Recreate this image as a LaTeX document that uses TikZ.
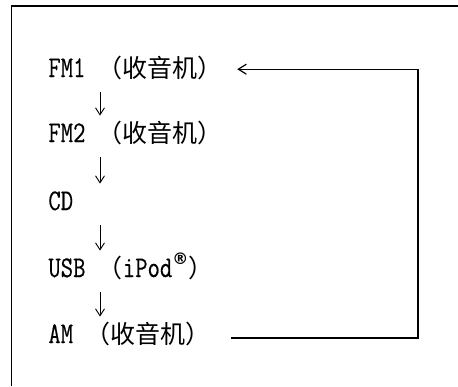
\documentclass[tikz,border=0pt]{standalone}
\usepackage{fontspec}
\newfontfamily\cjk{Noto Sans CJK SC}
\newfontfamily\latin[FakeStretch=0.8,FakeBold=0.4]{Latin Modern Mono}
\newfontfamily\symb{DejaVu Sans}
\usetikzlibrary{arrows.meta}

\tikzset{
  item/.style={anchor=base west,inner sep=0pt,text height=0.7em,text depth=0.2em,
    font=\fontsize{12.5}{15}\selectfont},
  down/.style={-{Straight Barb[length=3.5pt,width=4.5pt]},line width=0.45pt},
  back/.style={-{Straight Barb[length=4pt,width=5pt]},line width=0.6pt}
}
\newcommand\lat[1]{{\fontsize{15}{15}\selectfont\latin #1}}

\begin{document}
\begin{tikzpicture}[x=0.5pt,y=-0.5pt,line cap=butt]
  \useasboundingbox (0,0) rectangle (458,386);
  % open frame
  \draw[line width=0.6pt] (458,6) -- (11.5,6) -- (11.5,386);

  % sources
  \node[item] (fm1) at (48,77)  {\lat{FM1 }{\cjk （收音机）}};
  \node[item] (fm2) at (48,142) {\lat{FM2 }{\cjk （收音机）}};
  \node[item] (cd)  at (48,210) {\lat{CD}};
  \node[item] (usb) at (48,277) {\lat{USB }{\cjk （}\lat{iPod}\raisebox{0.5em}{\fontsize{8}{8}\selectfont\symb\bfseries ®}{\cjk ）}};
  \node[item] (am)  at (48,343) {\lat{AM }{\cjk （收音机）}};

  \foreach \a/\b in {fm1/fm2,fm2/cd,cd/usb,usb/am}{
    \draw[down,shorten <=5.5pt,shorten >=6pt] ([xshift=26pt]\a.south west) -- ([xshift=26pt]\b.north west);
  }

  % back to the first one
  \coordinate (turn) at (418,200);
  \draw[back] ([xshift=10pt]am.east) -| (turn) |- ([xshift=7pt,yshift=1.4pt]fm1.east);
\end{tikzpicture}
\end{document}
